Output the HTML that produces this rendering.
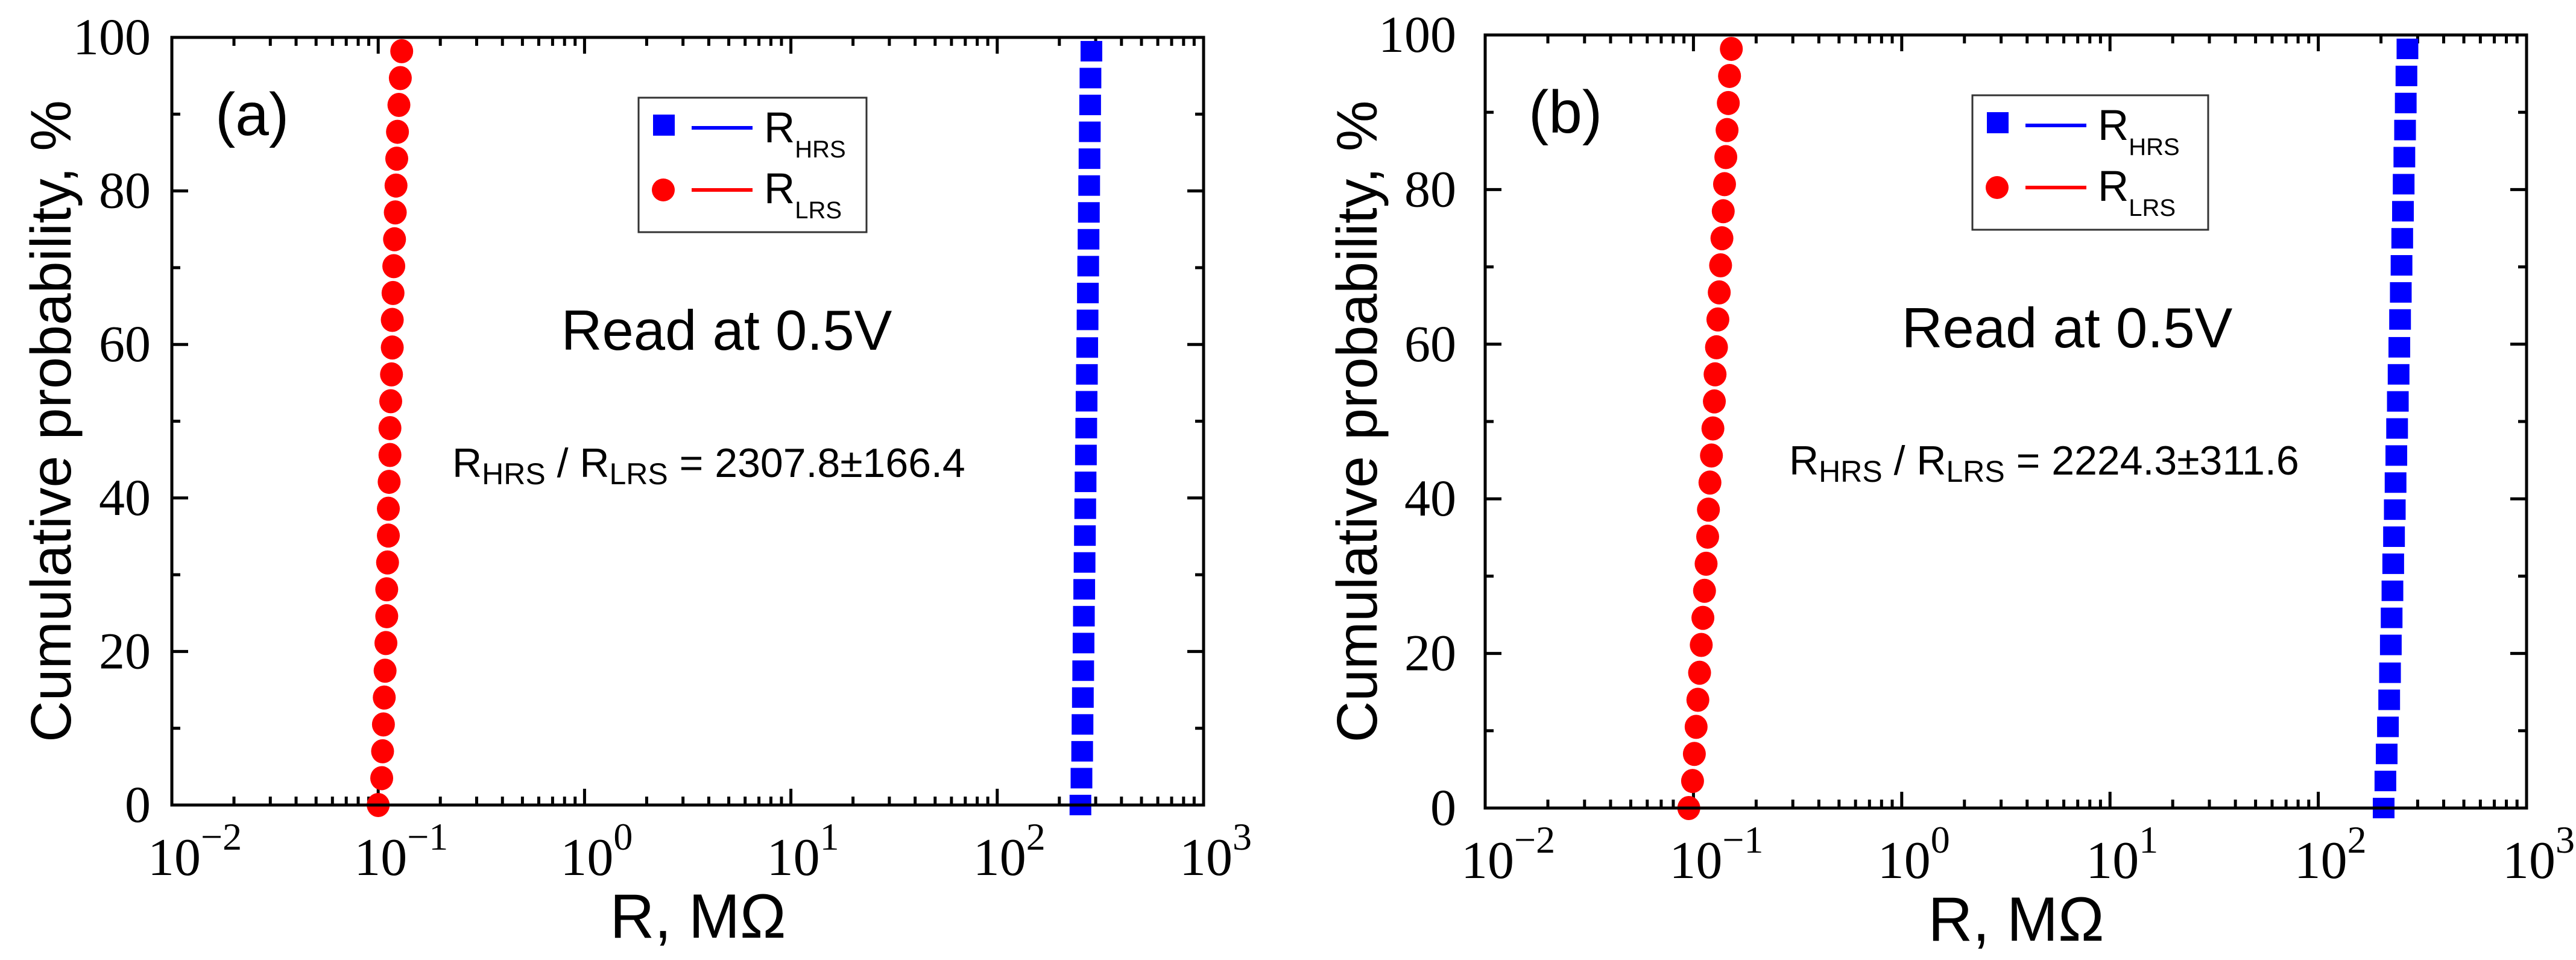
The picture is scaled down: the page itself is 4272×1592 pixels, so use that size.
<!DOCTYPE html>
<html><head><meta charset="utf-8"><style>
html,body{margin:0;padding:0;background:#fff;}
svg{display:block;}
.serif{font-family:"Liberation Serif",serif;}
.sans{font-family:"Liberation Sans",sans-serif;}
</style></head>
<body>
<svg id="chart" width="4272" height="1592" viewBox="0 0 4272 1592" xmlns="http://www.w3.org/2000/svg">
<rect x="0" y="0" width="4272" height="1592" fill="#fff"/>
<g id="panelA"></g>
<g id="panelB"></g>
</svg>
<script>
// ---- data ----
const probValues = [0,3.5,7.0,10.5,14.0,17.5,21.1,24.6,28.1,31.6,35.1,38.6,42.1,45.6,49.1,52.6,56.1,59.6,63.2,66.7,70.2,73.7,77.2,80.7,84.2,87.7,91.2,94.7,98.2];
const lrsA = [0.100,0.104,0.105,0.106,0.107,0.108,0.109,0.110,0.110,0.111,0.112,0.112,0.113,0.114,0.114,0.115,0.116,0.117,0.117,0.118,0.119,0.120,0.121,0.122,0.123,0.124,0.126,0.128,0.130];
const hrsA = [253,256,258,259,260,261,262,263,264,265,266,267,268,269,270,271,272,273,274,275,276,277,278,279,280,281,282,283,286];
const lrsB = [0.095,0.099,0.101,0.103,0.105,0.107,0.109,0.111,0.113,0.115,0.117,0.118,0.120,0.122,0.124,0.126,0.127,0.129,0.131,0.133,0.135,0.137,0.139,0.141,0.143,0.145,0.147,0.149,0.152];
const hrsB = [206,210,213,216,219,221,223,225,227,229,231,233,235,237,239,241,243,245,247,249,251,253,255,257,259,261,263,265,268];
const yTicks = [0,20,40,60,80,100];
const xExps = [-2,-1,0,1,2,3];
const ratioA = "2307.8±166.4";
const ratioB = "2224.3±311.6";

const NS = "http://www.w3.org/2000/svg";
function mk(tag, attrs, parent){
  const e = document.createElementNS(NS, tag);
  for (const k in attrs) e.setAttribute(k, attrs[k]);
  parent.appendChild(e);
  return e;
}

function drawPanel(g, P){
  const xs = v => P.l + (Math.log10(v) + 2) / 5 * (P.r - P.l);
  const ys = v => P.b - v / 100 * (P.b - P.t);

  for (let v = 0; v <= 100; v += 10){
    const major = v % 20 === 0;
    const len = major ? 27 : 14;
    const y = ys(v);
    const t1 = mk('line', {x1:P.l, y1:y, x2:P.l+len, y2:y, stroke:'#000','stroke-width':5}, g);
    
    
    const t2 = mk('line', {x1:P.r, y1:y, x2:P.r-len, y2:y, stroke:'#000','stroke-width':5}, g);
    
    
  }
  yTicks.forEach(v => {
    const t = mk('text', {x:P.ylx, y:ys(v)+28, 'text-anchor':'end', 'font-size':86, class:'serif'}, g);
    t.textContent = v;
    
    
  });
  for (let e = -2; e < 3; e++){
    for (let m = 1; m <= 9; m++){
      const v = m * Math.pow(10, e);
      const len = m === 1 ? 27 : 14;
      const x = xs(v);
      const a = mk('line', {x1:x, y1:P.b, x2:x, y2:P.b-len, stroke:'#000','stroke-width':5}, g);
      
      
      const c = mk('line', {x1:x, y1:P.t, x2:x, y2:P.t+len, stroke:'#000','stroke-width':5}, g);
      
      
    }
  }
  xExps.forEach(e => {
    const x = xs(Math.pow(10, e));
    const t = mk('text', {x:x-40, y:P.b+116, 'font-size':88, class:'serif'}, g);
    
    
    const base = mk('tspan', {}, t); base.textContent = '10';
    const sup = mk('tspan', {dy:-42, 'font-size':64}, t);
    sup.textContent = e < 0 ? '\u2212' + (-e) : String(e);
  });

  P.lrs.forEach((v, i) => {
    const c = mk('ellipse', {cx:xs(v), cy:ys(probValues[i]), rx:19, ry:20, fill:'#ff0000'}, g);
    
    
  });
  P.hrs.forEach((v, i) => {
    const s = mk('rect', {x:xs(v)-18, y:ys(probValues[i])-17, width:36, height:34, fill:'#0000ff'}, g);
    
    
  });

  const fr = mk('rect', {x:P.l, y:P.t, width:P.r-P.l, height:P.b-P.t, fill:'none', stroke:'#000', 'stroke-width':5}, g);
  
  

  const yt = mk('text', {x:0, y:0, 'text-anchor':'middle', 'font-size':95, class:'sans', transform:`translate(${P.ytx},${(P.t+P.b)/2}) rotate(-90)`}, g);
  yt.textContent = 'Cumulative probability, %';
  
  
  const xt = mk('text', {x:(P.l+P.r)/2+17, y:P.b+220, 'text-anchor':'middle', 'font-size':104, class:'sans', textLength:292, lengthAdjust:'spacingAndGlyphs'}, g);
  xt.textContent = 'R, M\u03A9';
  
  

  const pl = mk('text', {x:P.l+72, y:P.t+162, 'font-size':100, class:'sans'}, g);
  pl.textContent = P.label;
  
  

  const lx = P.legX, ly = P.t + 100;
  const lb = mk('rect', {x:lx, y:ly, width:P.legW, height:223, fill:'#fff', stroke:'#333', 'stroke-width':3}, g);
  
  
  const sq = mk('rect', {x:lx+24, y:ly+28, width:36, height:35, fill:'#0000ff'}, g);
  
  
  const l1 = mk('line', {x1:lx+88, y1:ly+50, x2:lx+189, y2:ly+50, stroke:'#0000ff', 'stroke-width':6}, g);
  
  
  const c1 = mk('circle', {cx:lx+41, cy:ly+153, r:19, fill:'#ff0000'}, g);
  
  
  const l2 = mk('line', {x1:lx+88, y1:ly+153, x2:lx+189, y2:ly+153, stroke:'#ff0000', 'stroke-width':6}, g);
  
  
  [['HRS', 74, 'legend-hrs-label'], ['LRS', 175, 'legend-lrs-label']].forEach(d => {
    const t = mk('text', {x:lx+208, y:ly+d[1], 'font-size':71, class:'sans'}, g);
    
    
    const a = mk('tspan', {}, t); a.textContent = 'R';
    const b = mk('tspan', {dy:25, 'font-size':40}, t); b.textContent = d[0];
  });

  const rd = mk('text', {x:P.readX, y:P.t+518, 'text-anchor':'middle', 'font-size':94, class:'sans'}, g);
  rd.textContent = 'Read at 0.5V';
  
  
  const rt = mk('text', {x:P.ratioX, y:P.t+729, 'font-size':68, class:'sans'}, g);
  
  
  const r1 = mk('tspan', {}, rt); r1.textContent = 'R';
  const r2 = mk('tspan', {dy:12, 'font-size':50}, rt); r2.textContent = 'HRS';
  const r3 = mk('tspan', {dy:-12}, rt); r3.textContent = ' / R';
  const r4 = mk('tspan', {dy:12, 'font-size':50}, rt); r4.textContent = 'LRS';
  const r5 = mk('tspan', {dy:-12}, rt); r5.textContent = ' = ' + P.ratio;
}

drawPanel(document.getElementById('panelA'), {
  l:285, r:1996, t:62, b:1335, ylx:250, ytx:117, label:'(a)',
  legX:1059, legW:378, readX:1205, ratioX:750, ratio:ratioA, lrs:lrsA, hrs:hrsA
});
drawPanel(document.getElementById('panelB'), {
  l:2463, r:4190, t:58, b:1340, ylx:2415, ytx:2283, label:'(b)',
  legX:3271, legW:391, readX:3428, ratioX:2967, ratio:ratioB, lrs:lrsB, hrs:hrsB
});
</script>
</body></html>
